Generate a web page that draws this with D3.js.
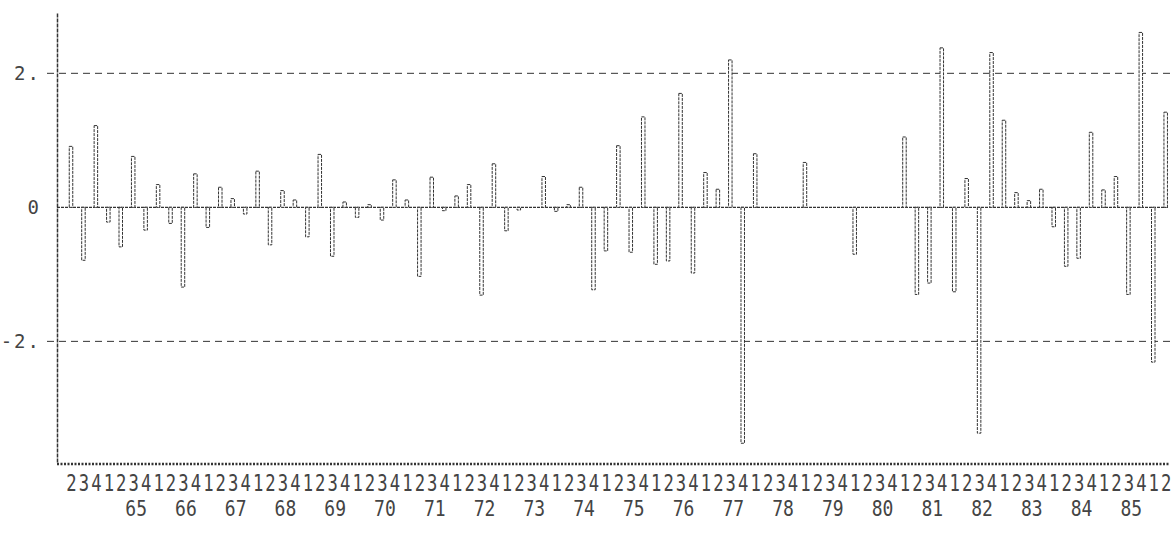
<!DOCTYPE html>
<html>
<head>
<meta charset="utf-8">
<script src="https://cdn.jsdelivr.net/npm/d3@7/dist/d3.min.js"></script>
<style>
  html, body { margin: 0; padding: 0; background: #fff; }
  svg { display: block; }
  text { font-family: "DejaVu Sans Mono", "Liberation Mono", monospace; fill: #444; }
</style>
</head>
<body>
<svg id="chart" width="1173" height="551"></svg>
<script>
// Quarterly series, 1964 Q2 through 1986 Q2
const startYear = 1964;
const startQuarter = 2;
const values = [
  0.91, -0.79, 1.22, -0.22, -0.59, 0.76, -0.34, 0.34, -0.24, -1.19,
  0.50, -0.30, 0.30, 0.13, -0.10, 0.54, -0.56, 0.25, 0.11, -0.44,
  0.79, -0.73, 0.08, -0.15, 0.04, -0.19, 0.41, 0.11, -1.03, 0.45,
  -0.05, 0.17, 0.34, -1.31, 0.65, -0.35, -0.04, 0.00, 0.46, -0.06,
  0.04, 0.30, -1.23, -0.65, 0.92, -0.67, 1.35, -0.85, -0.80, 1.70,
  -0.98, 0.52, 0.27, 2.20, -3.52, 0.80, 0.00, 0.00, 0.00, 0.67,
  0.00, 0.00, 0.00, -0.70, 0.00, 0.00, 0.00, 1.05, -1.30, -1.13,
  2.38, -1.26, 0.43, -3.37, 2.31, 1.30, 0.22, 0.10, 0.27, -0.29,
  -0.88, -0.76, 1.12, 0.26, 0.46, -1.30, 2.61, -2.31, 1.42
];
const yTickValues = [-2, 0, 2];
const yTickLabels = ["-2.", "0", "2."];
const yearLabels = ["65","66","67","68","69","70","71","72","73","74","75","76","77","78","79","80","81","82","83","84","85"];

const quarters = values.map((v, i) => {
  const q0 = startQuarter - 1 + i;
  return { i, v, year: startYear + Math.floor(q0 / 4), q: (q0 % 4) + 1 };
});

const svg = d3.select("#chart");
const ink = "#333";

const x = d3.scaleLinear().domain([0, values.length - 1]).range([71, 1165.7]);
const y = d3.scaleLinear().domain([-3.8, 2.9]).range([462, 13]);
const axisLeftX = 57, axisRightX = 1169;

// dashed reference lines at +-2
svg.append("g").selectAll("line").data([2, -2]).join("line")
  .attr("x1", 47).attr("x2", 1171)
  .attr("y1", d => y(d)).attr("y2", d => y(d))
  .attr("stroke", ink).attr("stroke-width", 1)
  .attr("stroke-dasharray", "7,5");

// zero line
svg.append("line")
  .attr("x1", axisLeftX).attr("x2", axisRightX)
  .attr("y1", y(0)).attr("y2", y(0))
  .attr("stroke", ink).attr("stroke-width", 1.2)
  .attr("stroke-dasharray", "3,1");

// bars
const bw = 3.5;
svg.append("g").selectAll("rect").data(quarters.filter(d => d.v !== 0)).join("rect")
  .attr("x", d => x(d.i) - bw / 2)
  .attr("width", bw)
  .attr("y", d => y(Math.max(0, d.v)))
  .attr("height", d => Math.abs(y(d.v) - y(0)))
  .attr("fill", "#fff")
  .attr("stroke", ink)
  .attr("stroke-width", 1)
  .attr("stroke-dasharray", "3,1");

// y axis
const yAxis = d3.axisLeft(y).tickValues(yTickValues).tickSize(0).tickPadding(16)
  .tickFormat((d, k) => yTickLabels[k]);
const gy = svg.append("g").attr("transform", `translate(${axisLeftX},0)`).call(yAxis);
gy.select(".domain").attr("stroke", ink).attr("stroke-width", 1.5).attr("stroke-dasharray", "4,1");
gy.selectAll("text").attr("font-size", 19).attr("fill", "#444")
  .attr("font-family", "DejaVu Sans Mono").attr("letter-spacing", 2);

// x axis with quarter digits
const xAxis = d3.axisBottom(x).tickValues(quarters.map(d => d.i)).tickSize(0).tickPadding(0)
  .tickFormat(d => String(quarters[d].q));
const gx = svg.append("g").attr("transform", `translate(0,${y.range()[0]})`).call(xAxis);
gx.select(".domain").remove();
svg.append("line")
  .attr("x1", axisLeftX).attr("x2", axisRightX)
  .attr("y1", y.range()[0] + 2).attr("y2", y.range()[0] + 2)
  .attr("stroke", ink).attr("stroke-width", 2.5).attr("stroke-dasharray", "2,1.5");
gx.selectAll(".tick text")
  .attr("y", 0).attr("dy", 0)
  .attr("font-size", 23).attr("fill", "#444")
  .attr("transform", "translate(0,29) scale(0.75,1)");

// year labels (centered between Q3 and Q4)
const yearIdx = yearLabels.map(s => quarters.find(d => d.q === 1 && (d.year % 100) === +s).i + 2.2);
const yearAxis = d3.axisBottom(x).tickValues(yearIdx).tickSize(0).tickPadding(0)
  .tickFormat((d, k) => yearLabels[k]);
const gyear = svg.append("g").attr("transform", `translate(0,${y.range()[0]})`).call(yearAxis);
gyear.select(".domain").remove();
gyear.selectAll(".tick text")
  .attr("y", 0).attr("dy", 0)
  .attr("font-size", 22).attr("fill", "#444")
  .attr("transform", "translate(0,54) scale(0.82,1)");
</script>
</body>
</html>
